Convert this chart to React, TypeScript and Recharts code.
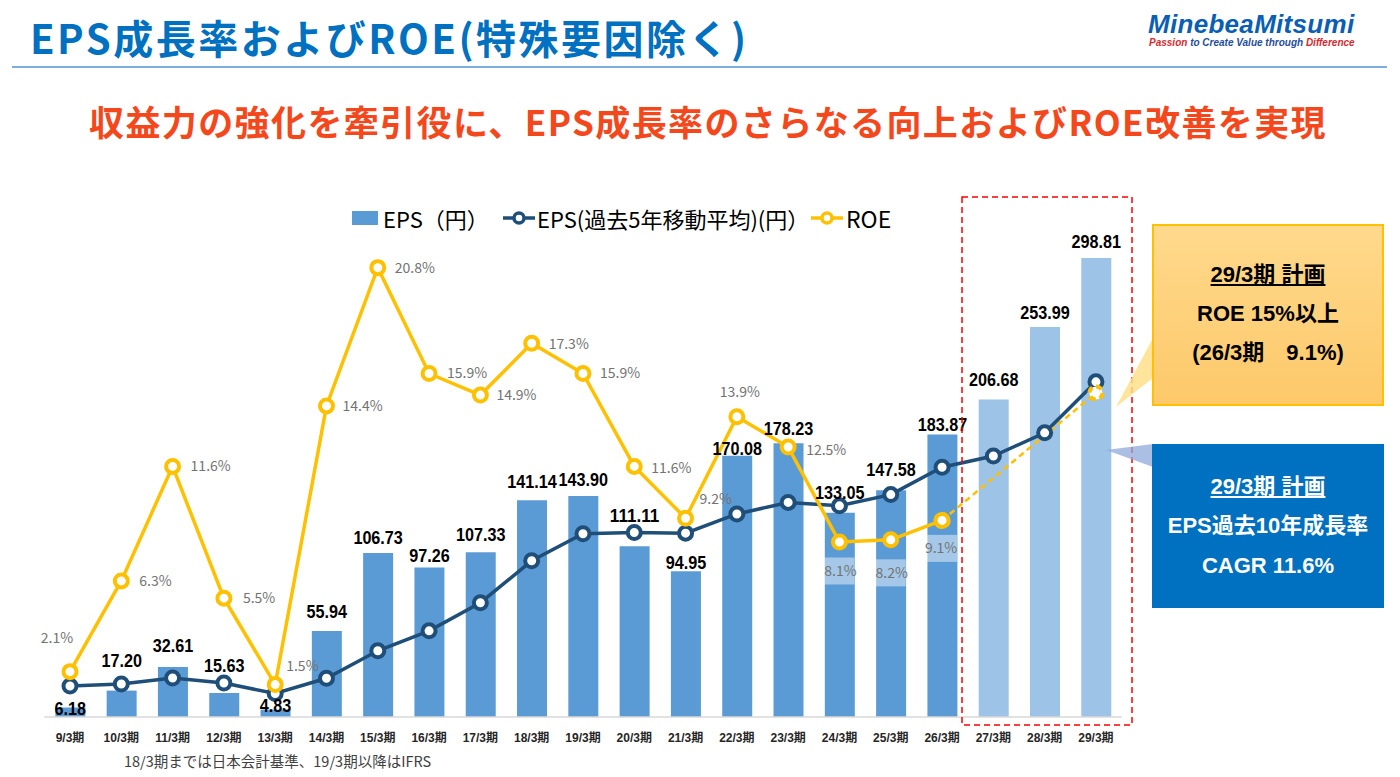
import React from 'react';
import { ComposedChart, Bar, Line, XAxis, YAxis, Cell, LabelList } from 'recharts';

// 期ごとの値（スライドから読み取り）
const periods = [
  '9/3期', '10/3期', '11/3期', '12/3期', '13/3期', '14/3期', '15/3期', '16/3期', '17/3期', '18/3期', '19/3期',
  '20/3期', '21/3期', '22/3期', '23/3期', '24/3期', '25/3期', '26/3期', '27/3期', '28/3期', '29/3期'
];
const eps = [
  6.18, 17.2, 32.61, 15.63, 4.83, 55.94, 106.73, 97.26, 107.33, 141.14, 143.9,
  111.11, 94.95, 170.08, 178.23, 133.05, 147.58, 183.87, 206.68, 253.99, 298.81
];
const epsAvg5 = [
  20.2, 21.5, 25.4, 22.1, 15.3, 25.2, 43.1, 56.1, 74.4, 101.7, 119.3,
  120.1, 119.7, 132.2, 139.7, 137.5, 144.8, 162.6, 169.9, 185.0, 218.2
];
const roe = [
  2.1, 6.3, 11.6, 5.5, 1.5, 14.4, 20.8, 15.9, 14.9, 17.3, 15.9,
  11.6, 9.2, 13.9, 12.5, 8.1, 8.2, 9.1, null, null, null
];
const roePlan = [
  null, null, null, null, null, null, null, null, null, null, null,
  null, null, null, null, null, null, 9.1, null, null, 15.0
];
const isPlan = [
  false, false, false, false, false, false, false, false, false, false, false,
  false, false, false, false, false, false, false, true, true, true
];

// ラベル位置の微調整（バー上端 / 点からのずれ, px）
const epsLabelShift = [1, -30, -21, -27, -4, -20, -16, -12, -18, -19, -16, -31, -9, -7, -15, -20, -21, -10, -20, -14, -17];
const roeLabelPos = [
  { dx: -13, dy: -34, anchor: 'middle' },
  { dx: 18, dy: 0, anchor: 'start' },
  { dx: 18, dy: 0, anchor: 'start' },
  { dx: 19, dy: 0, anchor: 'start' },
  { dx: 11, dy: -18, anchor: 'start' },
  { dx: 16, dy: 0, anchor: 'start' },
  { dx: 17, dy: 0, anchor: 'start' },
  { dx: 18, dy: 0, anchor: 'start' },
  { dx: 16, dy: 0, anchor: 'start' },
  { dx: 17, dy: 1, anchor: 'start' },
  { dx: 17, dy: 0, anchor: 'start' },
  { dx: 17, dy: 2, anchor: 'start' },
  { dx: 14, dy: -19, anchor: 'start' },
  { dx: 3, dy: -25, anchor: 'middle' },
  { dx: 18, dy: 3, anchor: 'start' },
  { dx: 1, dy: 29, anchor: 'middle', box: true },
  { dx: 1, dy: 33, anchor: 'middle', box: true },
  { dx: -1, dy: 28, anchor: 'middle', box: true }
];

const rows = periods.map((period, i) => ({
  period,
  eps: eps[i],
  epsAvg5: epsAvg5[i],
  roe: roe[i],
  roePlan: roePlan[i]
}));

const BAR = '#5B9BD5';
const BAR_PLAN = '#9DC3E6';
const NAVY = '#1F4E79';
const GOLD = '#FFC000';
const latin = "'Liberation Sans', Arial, 'Noto Sans CJK JP', sans-serif";
const cjk = "'Noto Sans CJK JP', sans-serif";

// eslint-disable-next-line @typescript-eslint/no-explicit-any
const EpsLabel = (props: any) => {
  const { x, y, width, value, index } = props;
  const text = Number(value).toFixed(2);
  // 元スライドの数字は縦長の書体なので横幅を詰める
  const len = (text.length - 1) * 9 + 4.5;
  return (
    <text
      x={x + width / 2}
      y={y + epsLabelShift[index]}
      dy="0.35em"
      textAnchor="middle"
      fontFamily={latin}
      fontSize={18.5}
      fontWeight={700}
      fill="#000"
      textLength={len}
      lengthAdjust="spacingAndGlyphs"
    >
      {text}
    </text>
  );
};

// eslint-disable-next-line @typescript-eslint/no-explicit-any
const RoeLabel = (props: any) => {
  const { x, y, value, index } = props;
  const pos = roeLabelPos[index];
  if (value == null || !pos) return null;
  const cx = x + pos.dx;
  const cy = y + pos.dy;
  return (
    <g>
      {pos.box && <rect x={x - 15} y={cy - 13.5} width={30} height={27} fill="#fff" fillOpacity={0.45} />}
      <text x={cx} y={cy} dy="0.35em" textAnchor={pos.anchor} fontFamily={cjk} fontSize={14} fill="#737373">
        {Number(value).toFixed(1)}%
      </text>
    </g>
  );
};

// eslint-disable-next-line @typescript-eslint/no-explicit-any
const PeriodTick = (props: any) => {
  const { x, y, payload } = props;
  return (
    <text x={x} y={y + 13} dy="0.35em" textAnchor="middle" fontFamily={latin} fontSize={12} fontWeight={700} fill="#262626">
      {payload.value}
    </text>
  );
};

const LegendLineIcon = ({ color }: { color: string }) => (
  <svg width={32} height={16} style={{ display: 'block' }}>
    <line x1={0} y1={8} x2={32} y2={8} stroke={color} strokeWidth={3.5} />
    <circle cx={16} cy={8} r={5} fill="#fff" stroke={color} strokeWidth={3.5} />
  </svg>
);

const abs = (style: React.CSSProperties): React.CSSProperties => ({ position: 'absolute', ...style });

const legendText: React.CSSProperties = { fontFamily: cjk, fontSize: 22, lineHeight: '26px', color: '#000', whiteSpace: 'nowrap' };

export default function App() {
  return (
    <div style={abs({ left: 0, top: 0, width: 1400, height: 777, background: '#fff', overflow: 'hidden' })}>
      {/* タイトル */}
      <div style={abs({ left: 30, top: 17, fontFamily: cjk, fontSize: 40, fontWeight: 700, color: '#0070C0', lineHeight: 1, letterSpacing: 2.5, whiteSpace: 'nowrap' })}>
        EPS成長率およびROE(特殊要因除く)
      </div>
      <div style={abs({ left: 12, top: 66, width: 1375, height: 2, background: '#7EAEDC' })} />
      <div style={abs({ left: 1148, top: 11, fontFamily: latin, fontSize: 26, fontWeight: 700, fontStyle: 'italic', color: '#0A5FB4', lineHeight: 1, letterSpacing: 0.3, whiteSpace: 'nowrap' })}>
        MinebeaMitsumi
      </div>
      <div style={abs({ left: 1149, top: 38, fontFamily: latin, fontSize: 10, fontWeight: 700, fontStyle: 'italic', color: '#1F4E9D', lineHeight: 1, whiteSpace: 'nowrap' })}>
        <span style={{ color: '#D7282F' }}>Passion</span> to Create Value through <span style={{ color: '#D7282F' }}>Difference</span>
      </div>
      <div style={abs({ left: 0, width: 1416, top: 103, textAlign: 'center', fontFamily: cjk, fontSize: 35, fontWeight: 700, color: '#F4471B', lineHeight: 1, letterSpacing: 1.4, whiteSpace: 'nowrap' })}>
        収益力の強化を牽引役に、EPS成長率のさらなる向上およびROE改善を実現
      </div>

      {/* 凡例 */}
      <div style={abs({ left: 352, top: 211, width: 26, height: 14, background: BAR })} />
      <div style={abs({ left: 383, top: 205, ...legendText })}>EPS（円）</div>
      <div style={abs({ left: 503, top: 210 })}><LegendLineIcon color={NAVY} /></div>
      <div style={abs({ left: 537, top: 205, ...legendText })}>EPS(過去5年移動平均)(円）</div>
      <div style={abs({ left: 811, top: 210 })}><LegendLineIcon color={GOLD} /></div>
      <div style={abs({ left: 846, top: 205, ...legendText, fontSize: 23 })}>ROE</div>

      <div style={abs({ left: 0, top: 0 })}>
        <ComposedChart width={1400} height={777} data={rows} margin={{ top: 225.5, right: 278.4, left: 44.35, bottom: 30 }}>
          <XAxis
            dataKey="period"
            tick={PeriodTick}
            tickLine={false}
            axisLine={{ stroke: '#D9D9D9', strokeWidth: 1.5 }}
            interval={0}
            height={30}
          />
          <YAxis yAxisId="eps" domain={[0, 320]} hide />
          <YAxis yAxisId="roe" orientation="right" domain={[0, 22.75]} hide />
          <Bar dataKey="eps" yAxisId="eps" barSize={30} isAnimationActive={false}>
            {rows.map((r, i) => (
              <Cell key={r.period} fill={isPlan[i] ? BAR_PLAN : BAR} />
            ))}
            <LabelList dataKey="eps" content={EpsLabel} />
          </Bar>
          <Line
            dataKey="epsAvg5"
            yAxisId="eps"
            stroke={NAVY}
            strokeWidth={3.5}
            dot={{ r: 6.5, fill: '#fff', stroke: NAVY, strokeWidth: 4 }}
            activeDot={false}
            isAnimationActive={false}
          />
          <Line
            dataKey="roePlan"
            yAxisId="roe"
            stroke={GOLD}
            strokeWidth={2.5}
            strokeDasharray="6 4"
            connectNulls
            dot={{ r: 6.5, fill: '#fff', stroke: GOLD, strokeWidth: 4 }}
            activeDot={false}
            isAnimationActive={false}
          />
          <Line
            dataKey="roe"
            yAxisId="roe"
            stroke={GOLD}
            strokeWidth={3.5}
            dot={{ r: 6.5, fill: '#fff', stroke: GOLD, strokeWidth: 4 }}
            activeDot={false}
            isAnimationActive={false}
          >
            <LabelList dataKey="roe" content={RoeLabel} />
          </Line>
        </ComposedChart>
      </div>

      {/* 計画期間の枠と吹き出し */}
      <svg width={1400} height={777} style={abs({ left: 0, top: 0, pointerEvents: 'none' })}>
        <rect x={962} y={197} width={170} height={528} fill="none" stroke="#FF0000" strokeWidth={1.5} strokeDasharray="6 4" />
        <polygon points="1153,338 1153,378 1116,407" fill="#FFE08A" fillOpacity={0.85} />
        <polygon points="1153,444 1153,467 1106,450" fill="#8FAADC" fillOpacity={0.75} />
      </svg>
      <div
        style={abs({
          left: 1152, top: 224, width: 232, height: 182, boxSizing: 'border-box',
          border: '2px solid #FFC000', background: 'linear-gradient(#FFD98C, #FDC96A)',
          fontFamily: latin, fontWeight: 700, fontSize: 22, color: '#000', textAlign: 'center'
        })}
      >
        <div style={abs({ left: 0, right: 0, top: 35, lineHeight: '28px' })}><span style={{ textDecoration: 'underline' }}>29/3期 計画</span></div>
        <div style={abs({ left: 0, right: 0, top: 74, lineHeight: '28px' })}>ROE 15%以上</div>
        <div style={abs({ left: 0, right: 0, top: 113, lineHeight: '28px' })}>(26/3期　9.1%)</div>
      </div>
      <div
        style={abs({
          left: 1152, top: 444, width: 232, height: 164, background: '#0070C0',
          fontFamily: latin, fontWeight: 700, fontSize: 22, color: '#fff', textAlign: 'center'
        })}
      >
        <div style={abs({ left: 0, right: 0, top: 29, lineHeight: '28px' })}><span style={{ textDecoration: 'underline' }}>29/3期 計画</span></div>
        <div style={abs({ left: 0, right: 0, top: 68, lineHeight: '28px' })}>EPS過去10年成長率</div>
        <div style={abs({ left: 0, right: 0, top: 108, lineHeight: '28px' })}>CAGR 11.6%</div>
      </div>

      {/* 注記 */}
      <div style={abs({ left: 124, top: 751, fontFamily: cjk, fontSize: 14.5, lineHeight: '20px', color: '#404040', whiteSpace: 'nowrap' })}>
        18/3期までは日本会計基準、19/3期以降はIFRS
      </div>
    </div>
  );
}
